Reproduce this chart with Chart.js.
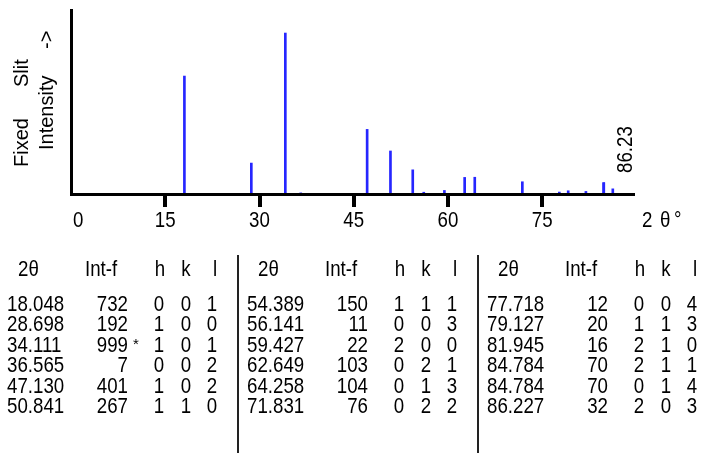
<!DOCTYPE html>
<html><head><meta charset="utf-8">
<script src="https://cdn.jsdelivr.net/npm/chart.js@4/dist/chart.umd.min.js"></script>
<style>html,body{margin:0;padding:0;background:#fff;overflow:hidden}#wrap{position:relative;width:703px;height:453px}</style>
</head><body><div id="wrap"><canvas id="c" width="703" height="453"></canvas></div>
<script>
// ---- data ----
const twoTheta = [18.048,28.698,34.111,36.565,47.130,50.841,54.389,56.141,59.427,62.649,64.258,71.831,77.718,79.127,81.945,84.784,84.784,86.227];
const twoThetaText = ["18.048","28.698","34.111","36.565","47.130","50.841","54.389","56.141","59.427","62.649","64.258","71.831","77.718","79.127","81.945","84.784","84.784","86.227"];
const intensity = [732,192,999,7,401,267,150,11,22,103,104,76,12,20,16,70,70,32];
const hIdx = [0,1,1,0,1,1,1,0,2,0,0,0,0,1,2,2,0,2];
const kIdx = [0,0,0,0,0,1,1,0,0,2,1,2,0,1,1,1,1,0];
const lIdx = [1,0,1,2,2,0,1,3,0,1,3,2,4,3,0,1,4,3];
const xTicks = [0,15,30,45,60,75];
const tableHeaders = ["2θ","Int-f","h","k","l"];
const peakLabel = "86.23";
const peakLabelAt = 86.227;
const yTitle1 = ["Fixed","Slit"];
const yTitle2 = ["Intensity","->"];
const xTitle = ["2","θ","°"];

const FONT = '22px "Liberation Sans", Arial, sans-serif';
const SX = 0.85;

function txt(ctx, s, x, y, align, font, sx, rot) {
  ctx.save();
  ctx.translate(x, y);
  if (rot) ctx.rotate(rot);
  ctx.scale(sx || 1, 1);
  ctx.font = font || FONT;
  ctx.textAlign = align || 'left';
  ctx.textBaseline = 'alphabetic';
  ctx.fillStyle = '#000';
  ctx.fillText(s, 0, 0);
  ctx.restore();
}

const textPlugin = {
  id: 'textPlugin',
  afterDraw(chart) {
    const ctx = chart.ctx;
    const xs = chart.scales.x;
    const area = chart.chartArea;
    // x tick marks + labels
    ctx.save();
    ctx.font = FONT;
    xs.ticks.forEach(t => {
      const px = xs.getPixelForValue(t.value);
      if (px > area.left + 3) {
        ctx.fillStyle = '#000';
        ctx.fillRect(Math.round(px) - 2, area.bottom, 4, 13);
      }
      const s = String(t.value);
      const w = ctx.measureText(s).width * SX;
      if (px - w / 2 < area.left) txt(ctx, s, area.left + 2, 227, 'left', FONT, SX);
      else txt(ctx, s, px, 227, 'center', FONT, SX);
    });
    ctx.restore();
    // x title
    txt(ctx, xTitle[0], area.right + 8, 227, 'left', FONT, SX);
    txt(ctx, xTitle[1], area.right + 26, 227, 'left', FONT, SX);
    txt(ctx, xTitle[2], area.right + 40, 227, 'left', FONT, SX);
    // peak label
    const pk = xs.getPixelForValue(peakLabelAt);
    txt(ctx, peakLabel, pk + 19, area.bottom - 21, 'left', FONT, SX, -Math.PI / 2);
    // y title
    const YF = '20px "Liberation Sans", Arial, sans-serif';
    txt(ctx, yTitle1[0], 28, 167, 'left', YF, 1, -Math.PI / 2);
    txt(ctx, yTitle1[1], 28, 87, 'left', YF, 1, -Math.PI / 2);
    txt(ctx, yTitle2[0], 53, 150, 'left', YF, 1, -Math.PI / 2);
    txt(ctx, yTitle2[1], 53, 49, 'left', YF, 1, -Math.PI / 2);

    // table
    const maxI = Math.max(...intensity);
    for (let b = 0; b < 3; b++) {
      const bx = b * 240;
      txt(ctx, tableHeaders[0], bx + 18, 276, 'left', FONT, SX);
      txt(ctx, tableHeaders[1], bx + 85, 276, 'left', FONT, SX);
      txt(ctx, tableHeaders[2], bx + 160, 276, 'center', FONT, SX);
      txt(ctx, tableHeaders[3], bx + 186, 276, 'center', FONT, SX);
      txt(ctx, tableHeaders[4], bx + 215, 276, 'center', FONT, SX);
      for (let r = 0; r < 6; r++) {
        const i = b * 6 + r;
        const y = 311 + r * 20.4;
        txt(ctx, twoThetaText[i], bx + 7, y, 'left', FONT, SX);
        txt(ctx, String(intensity[i]), bx + 128, y, 'right', FONT, SX);
        if (intensity[i] === maxI) txt(ctx, '*', bx + 133, y - 3, 'left', '15px "Liberation Sans", Arial, sans-serif', 1);
        txt(ctx, String(hIdx[i]), bx + 159, y, 'center', FONT, SX);
        txt(ctx, String(kIdx[i]), bx + 186, y, 'center', FONT, SX);
        txt(ctx, String(lIdx[i]), bx + 212, y, 'center', FONT, SX);
      }
      if (b > 0) {
        ctx.save();
        ctx.strokeStyle = '#222';
        ctx.lineWidth = 2;
        ctx.beginPath();
        ctx.moveTo(bx - 2, 255);
        ctx.lineTo(bx - 2, 453);
        ctx.stroke();
        ctx.restore();
      }
    }
  }
};

new Chart(document.getElementById('c').getContext('2d'), {
  type: 'bar',
  data: {
    datasets: [{
      data: twoTheta.map((x, i) => ({ x: x, y: intensity[i] })),
      backgroundColor: '#2626ff',
      borderWidth: 0,
      barThickness: 2
    }]
  },
  options: {
    responsive: false,
    animation: false,
    events: [],
    layout: { padding: { left: 63, right: 703 - 634, top: 10, bottom: 453 - 194 } },
    plugins: { legend: { display: false }, tooltip: { enabled: false } },
    scales: {
      x: {
        type: 'linear', min: 0, max: 89.6, offset: false,
        afterBuildTicks: s => { s.ticks = xTicks.map(v => ({ value: v })); },
        afterFit: s => { s.height = 0; },
        grid: { display: false, offset: false },
        border: { display: true, color: '#000', width: 3, z: 1 },
        ticks: { display: false }
      },
      y: {
        min: 0, max: 1142,
        grid: { display: false },
        border: { display: true, color: '#000', width: 3, z: 1 },
        ticks: { display: false }
      }
    }
  },
  plugins: [textPlugin]
});
</script>
</body></html>
